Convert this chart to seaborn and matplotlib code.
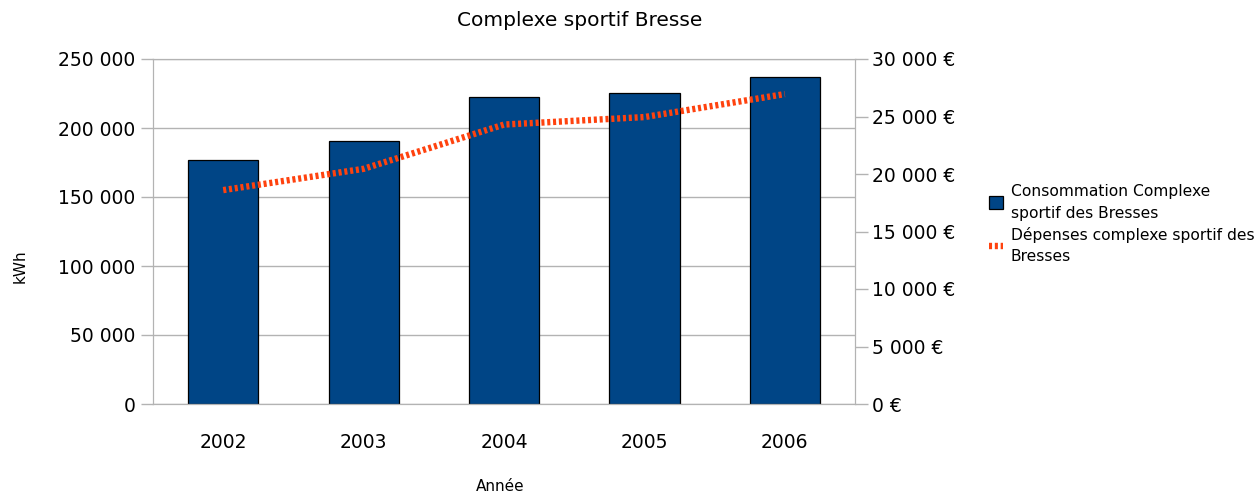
import matplotlib
matplotlib.use("Agg")
import matplotlib.pyplot as plt
import seaborn as sns
import numpy as np
import pandas as pd
from matplotlib.patches import Patch
from matplotlib.lines import Line2D
from matplotlib.ticker import FuncFormatter

# data
annees = ["2002", "2003", "2004", "2005", "2006"]
consommation_kwh = [176500, 190500, 222300, 225300, 236800]
depenses_eur = [18600, 20450, 24300, 24950, 26950]

label_conso = "Consommation Complexe\nsportif des Bresses"
label_dep = "Dépenses complexe sportif des\nBresses"

bleu = "#004586"
orange = "#ff420e"
gris = "#b3b3b3"

sns.set_style("white")
plt.rcParams['font.family'] = ['DejaVu Sans']
plt.rcParams['text.color'] = 'black'
plt.rcParams['axes.labelcolor'] = 'black'
plt.rcParams['lines.scale_dashes'] = False

df = pd.DataFrame({"annee": annees, "kwh": consommation_kwh,
                   "pos": np.arange(len(annees)), "eur": depenses_eur})

fig = plt.figure(figsize=(12.57, 4.96), dpi=100)
ax = fig.add_axes([153 / 1257, 92 / 496, 702 / 1257, 345 / 496])

sns.barplot(data=df, x="annee", y="kwh", color=bleu, width=0.5,
            edgecolor="black", linewidth=0.9, saturation=1, ax=ax)
ax.set_xlim(-0.5, len(annees) - 0.5)
ax.set_ylim(0, 250000)
ax.set_yticks(np.arange(0, 250001, 50000))
ax.yaxis.set_major_formatter(FuncFormatter(lambda v, p: f"{v:,.0f}".replace(",", " ")))
ax.grid(axis="y", color=gris, linewidth=1)
ax.set_axisbelow(True)
for s in ax.spines.values():
    s.set_color(gris)
ax.tick_params(axis="both", colors=gris, labelcolor="black", labelsize=13.5,
               length=9, width=1, direction="out")
ax.tick_params(axis="x", pad=12)
ax.set_xlabel("Année", fontsize=11, va="center")
ax.xaxis.set_label_coords(0.494, -0.24)
ax.set_ylabel("kWh", fontsize=11, va="center")
ax.yaxis.set_label_coords(-0.189, 0.4)

ax2 = ax.twinx()
sns.lineplot(data=df, x="pos", y="eur", color=orange, linewidth=4.6, ax=ax2)
for ln in ax2.lines:
    ln.set_dashes((2.2, 2.0))
    ln.set_dash_capstyle("butt")
ax2.set_ylim(0, 30000)
ax2.set_yticks(np.arange(0, 30001, 5000))
ax2.yaxis.set_major_formatter(FuncFormatter(lambda v, p: f"{v:,.0f} €".replace(",", " ")))
ax2.set_ylabel("")
ax2.set_xlabel("")
for s in ax2.spines.values():
    s.set_color(gris)
ax2.tick_params(axis="y", colors=gris, labelcolor="black", labelsize=13.5,
                length=9, width=1, direction="out")
ax.set_xlim(-0.5, len(annees) - 0.5)

fig.suptitle("Complexe sportif Bresse", x=580 / 1257, y=1 - 20 / 496,
             va="center", fontsize=14.5)

handles = [Patch(facecolor=bleu, edgecolor="black", linewidth=0.9),
           Line2D([0], [0], color=orange, linewidth=4.6, dashes=(2.2, 2.0),
                  dash_capstyle="butt")]
leg = fig.legend(handles, [label_conso, label_dep], loc="upper left",
                 bbox_to_anchor=(975 / 1257, 1 - 170 / 496), frameon=False,
                 fontsize=11.2, handlelength=0.9, handleheight=0.9,
                 handletextpad=0.5, labelspacing=0.4)
for t in leg.get_texts():
    t.set_linespacing(1.55)
    t.set_color("black")

fig.savefig("out.png", dpi=100)
